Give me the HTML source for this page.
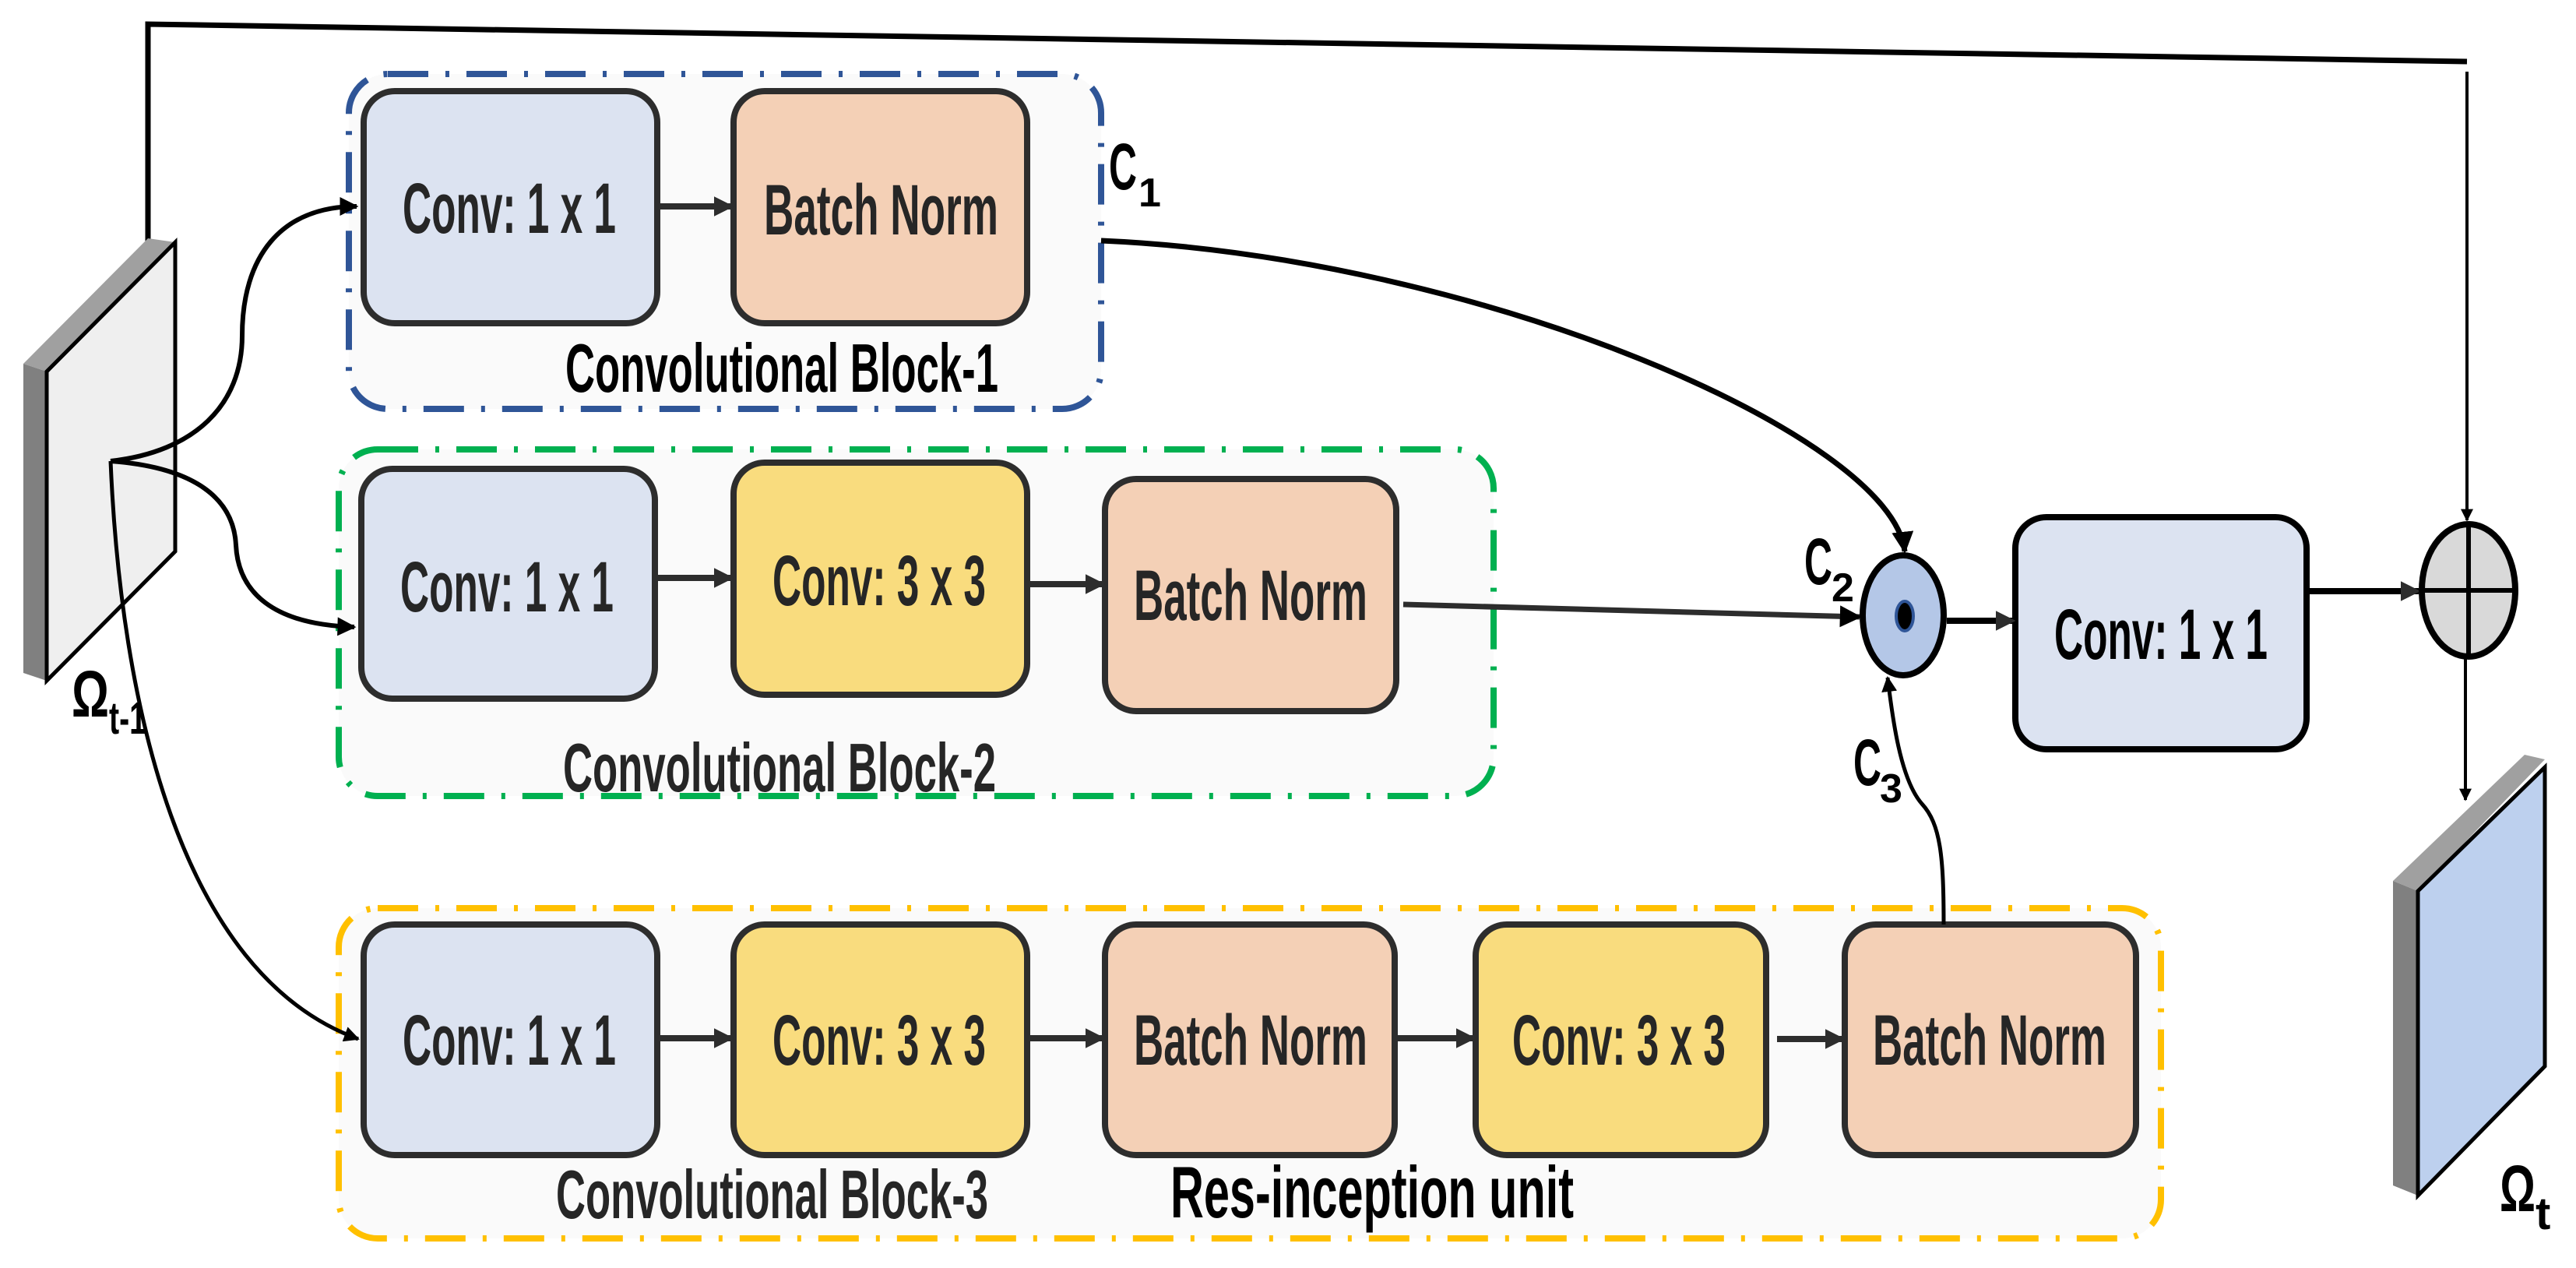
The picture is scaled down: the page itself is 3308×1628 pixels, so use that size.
<!DOCTYPE html>
<html><head><meta charset="utf-8"><style>html,body{margin:0;padding:0;background:#fff}svg{display:block}</style></head>
<body>
<svg width="3308" height="1628" viewBox="0 0 3308 1628" xmlns="http://www.w3.org/2000/svg" font-family="Liberation Sans, sans-serif" font-weight="bold">
<defs>
<marker id="ah" viewBox="0 0 10 10" refX="9" refY="5" markerWidth="5" markerHeight="5" orient="auto" markerUnits="strokeWidth"><path d="M0,0 L10,5 L0,10 z" fill="#000"/></marker>
<marker id="ahd" viewBox="0 0 10 10" refX="9" refY="5" markerWidth="3.2" markerHeight="3.2" orient="auto" markerUnits="strokeWidth"><path d="M0,0 L10,5 L0,10 z" fill="#2d2d2d"/></marker>
<marker id="ahs" viewBox="0 0 10 10" refX="9" refY="5" markerWidth="4" markerHeight="4" orient="auto" markerUnits="strokeWidth"><path d="M0,0 L10,5 L0,10 z" fill="#000"/></marker>
</defs>

<polyline points="190,343 190,31 3168,79" fill="none" stroke="#000" stroke-width="7"/>
<line x1="3168" y1="92" x2="3168" y2="668" stroke="#000" stroke-width="4" marker-end="url(#ahs)"/>

<g fill="#fafafa" stroke-width="8" stroke-dasharray="52,22,5,22">
<rect x="448" y="95" width="966" height="430" rx="50" stroke="#2f5597"/>
<rect x="435" y="577" width="1483" height="445" rx="50" stroke="#00b050"/>
<rect x="435" y="1166" width="2340" height="424" rx="50" stroke="#ffc000"/>
</g>

<g stroke="#2d2d2d" stroke-width="8">
<rect x="467" y="117" width="377" height="298" rx="40" fill="#dce3f1"/>
<rect x="942" y="117" width="377" height="298" rx="40" fill="#f4d0b6"/>
<rect x="464" y="602" width="377" height="295" rx="40" fill="#dce3f1"/>
<rect x="942" y="594" width="377" height="298" rx="40" fill="#f9dc7e"/>
<rect x="1419" y="615" width="374" height="298" rx="40" fill="#f4d0b6"/>
<rect x="467" y="1187" width="377" height="296" rx="40" fill="#dce3f1"/>
<rect x="942" y="1187" width="377" height="296" rx="40" fill="#f9dc7e"/>
<rect x="1419" y="1187" width="372" height="296" rx="40" fill="#f4d0b6"/>
<rect x="1895" y="1187" width="373" height="296" rx="40" fill="#f9dc7e"/>
<rect x="2369" y="1187" width="374" height="296" rx="40" fill="#f4d0b6"/>
<rect x="2588" y="664" width="374" height="298" rx="40" fill="#dce3f1" stroke="#000"/>
</g>

<g stroke="#2d2d2d" stroke-width="8" marker-end="url(#ahd)">
<line x1="848" y1="265" x2="940" y2="265"/>
<line x1="845" y1="742" x2="940" y2="742"/>
<line x1="1323" y1="750" x2="1417" y2="750"/>
<line x1="848" y1="1333" x2="940" y2="1333"/>
<line x1="1323" y1="1333" x2="1417" y2="1333"/>
<line x1="1795" y1="1333" x2="1893" y2="1333"/>
<line x1="2282" y1="1334" x2="2367" y2="1334"/>
</g>

<g fill="#262626" font-size="92">
<text x="517" y="299" textLength="274" lengthAdjust="spacingAndGlyphs">Conv: 1 x 1</text>
<text x="981" y="301" textLength="301" lengthAdjust="spacingAndGlyphs">Batch Norm</text>
<text x="514" y="785" textLength="274" lengthAdjust="spacingAndGlyphs">Conv: 1 x 1</text>
<text x="992" y="777" textLength="274" lengthAdjust="spacingAndGlyphs">Conv: 3 x 3</text>
<text x="1456" y="796" textLength="300" lengthAdjust="spacingAndGlyphs">Batch Norm</text>
<text x="517" y="1367" textLength="274" lengthAdjust="spacingAndGlyphs">Conv: 1 x 1</text>
<text x="992" y="1367" textLength="274" lengthAdjust="spacingAndGlyphs">Conv: 3 x 3</text>
<text x="1456" y="1367" textLength="300" lengthAdjust="spacingAndGlyphs">Batch Norm</text>
<text x="1942" y="1367" textLength="274" lengthAdjust="spacingAndGlyphs">Conv: 3 x 3</text>
<text x="2405" y="1367" textLength="300" lengthAdjust="spacingAndGlyphs">Batch Norm</text>
<text x="2638" y="846" fill="#000" textLength="274" lengthAdjust="spacingAndGlyphs">Conv: 1 x 1</text>
</g>

<g fill="#000" font-size="88">
<text x="726" y="503" textLength="556" lengthAdjust="spacingAndGlyphs">Convolutional Block-1</text>
<text x="723" y="1016" textLength="556" lengthAdjust="spacingAndGlyphs" fill="#262626">Convolutional Block-2</text>
<text x="714" y="1564" textLength="555" lengthAdjust="spacingAndGlyphs" fill="#262626">Convolutional Block-3</text>
<text x="1503" y="1563" font-size="94" textLength="518" lengthAdjust="spacingAndGlyphs">Res-inception unit</text>
</g>

<polygon points="30,467 190,306 225,311 60,477" fill="#a0a0a0"/>
<polygon points="30,467 60,477 60,874 30,864" fill="#808080"/>
<polygon points="60,477 225,311 225,708 60,874" fill="#efefef" stroke="#000" stroke-width="5"/>
<text x="92" y="920" font-size="84" textLength="48" lengthAdjust="spacingAndGlyphs">Ω</text>
<text x="140" y="942" font-size="58" textLength="48" lengthAdjust="spacingAndGlyphs">t-1</text>

<polygon points="3073,1131 3242,969 3268,975 3105,1144" fill="#a0a0a0"/>
<polygon points="3073,1131 3105,1144 3105,1535 3073,1522" fill="#808080"/>
<polygon points="3105,1144 3268,985 3268,1369 3105,1535" fill="#bdd0ee" stroke="#000" stroke-width="5"/>
<text x="3210" y="1555" font-size="84" textLength="46" lengthAdjust="spacingAndGlyphs">Ω</text>
<text x="3256" y="1578" font-size="58">t</text>

<g fill="none" stroke="#000" stroke-width="6">
<path d="M142,592 C250,580 311,520 311,431 C311,330 360,265 458,265" marker-end="url(#ahs)"/>
<path d="M142,592 C250,600 300,640 303,700 C306,760 350,802 455,805" marker-end="url(#ahs)"/>
<path d="M142,592 C155,900 230,1250 460,1334" stroke-width="5" marker-end="url(#ahs)"/>
</g>

<path d="M1414,309 C1900,330 2430,560 2446,708" fill="none" stroke="#000" stroke-width="7" marker-end="url(#ahs)"/>
<line x1="1802" y1="776" x2="2388" y2="792" stroke="#2d2d2d" stroke-width="7" marker-end="url(#ahs)"/>
<path d="M2496,1187 C2496,1100 2492,1058 2468,1032 C2440,1000 2430,920 2424,870" fill="none" stroke="#000" stroke-width="5" marker-end="url(#ahs)"/>

<ellipse cx="2444" cy="790" rx="52" ry="77" fill="#b4c7e7" stroke="#000" stroke-width="8"/>
<ellipse cx="2446" cy="791" rx="11" ry="19" fill="#000" stroke="#2f5597" stroke-width="4"/>
<line x1="2500" y1="797" x2="2586" y2="797" stroke="#000" stroke-width="8" marker-end="url(#ahd)"/>

<line x1="2962" y1="759" x2="3106" y2="759" stroke="#000" stroke-width="8" marker-end="url(#ahd)"/>
<ellipse cx="3170" cy="758" rx="60" ry="85" fill="#d9d9d9" stroke="#000" stroke-width="8"/>
<line x1="3112" y1="758" x2="3228" y2="758" stroke="#000" stroke-width="6"/>
<line x1="3170" y1="674" x2="3170" y2="843" stroke="#000" stroke-width="6"/>
<line x1="3166" y1="845" x2="3166" y2="1027" stroke="#000" stroke-width="4" marker-end="url(#ahs)"/>

<g font-size="84">
<text x="1424" y="243" textLength="36" lengthAdjust="spacingAndGlyphs">C</text><text x="1462" y="265" font-size="52">1</text>
<text x="2317" y="750" textLength="36" lengthAdjust="spacingAndGlyphs">C</text><text x="2352" y="772" font-size="52">2</text>
<text x="2380" y="1008" textLength="36" lengthAdjust="spacingAndGlyphs">C</text><text x="2414" y="1030" font-size="52">3</text>
</g>
</svg>
</body></html>
